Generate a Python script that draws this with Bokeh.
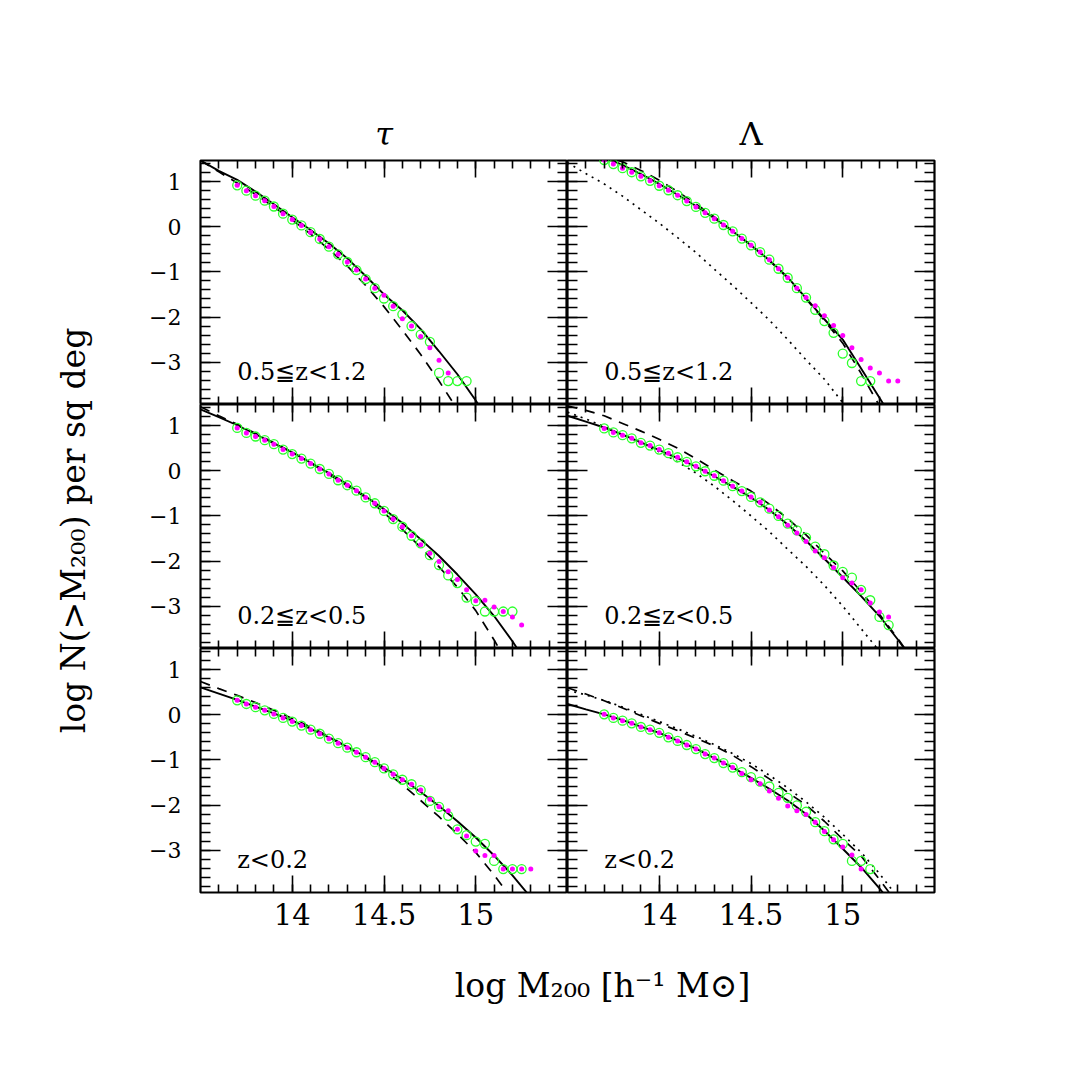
import numpy as np
from bokeh.plotting import figure
from bokeh.models import Range1d, LinearAxis, FixedTicker, Label
from bokeh.layouts import row, column
from bokeh.embed import file_html
from bokeh.resources import INLINE

# ---------------- data ----------------
# mass bins of the simulated cluster counts (log M200)
mass_bins = [13.70, 13.75, 13.80, 13.85, 13.90, 13.95, 14.00, 14.05, 14.10, 14.15,
             14.20, 14.25, 14.30, 14.35, 14.40, 14.45, 14.50, 14.55, 14.60, 14.65,
             14.70, 14.75, 14.80, 14.85, 14.90, 14.95, 15.00, 15.05, 15.10, 15.15,
             15.20, 15.25, 15.30]
# mass grid of the model curves
model_mass = [13.5, 13.6, 13.7, 13.8, 13.9, 14.0, 14.1, 14.2, 14.3, 14.4,
              14.5, 14.6, 14.7, 14.8, 14.9, 15.0, 15.1, 15.2, 15.3, 15.4]

# tau model, 0.5 <= z < 1.2
tau_hi_green = [0.92, 0.80, 0.69, 0.58, 0.45, 0.29, 0.16, 0.03, -0.12, -0.27, -0.44, -0.61, -0.78,
                -0.96, -1.16, -1.36, -1.59, -1.76, -1.94, -2.20, -2.39, -2.55, -3.24, -3.42, -3.42, -3.42]
tau_hi_magenta = [0.92, 0.80, 0.69, 0.58, 0.45, 0.29, 0.16, 0.03, -0.12, -0.27, -0.44, -0.61, -0.78,
                  -0.96, -1.16, -1.36, -1.52, -1.76, -2.04, -2.20, -2.43, -2.68, -2.96, -3.24]
tau_hi_solid = [1.47, 1.24, 1.04, 0.78, 0.50, 0.21, -0.07, -0.37, -0.70, -1.09, -1.50, -1.85,
                -2.27, -2.76, -3.27, -3.85, -4.50]
tau_hi_dashed = [1.47, 1.22, 0.97, 0.72, 0.44, 0.15, -0.16, -0.50, -0.87, -1.30, -1.77, -2.29,
                 -2.83, -3.42, -4.05]

# Lambda model, 0.5 <= z < 1.2
lam_hi_green = [1.48, 1.39, 1.30, 1.21, 1.12, 1.02, 0.91, 0.81, 0.70, 0.57, 0.44, 0.31, 0.18, 0.04,
                -0.10, -0.26, -0.41, -0.56, -0.73, -0.93, -1.13, -1.36, -1.57, -1.84, -2.09, -2.35,
                -2.81, -3.02, -3.42, -3.42]
lam_hi_magenta = [1.48, 1.39, 1.30, 1.21, 1.12, 1.02, 0.91, 0.81, 0.70, 0.57, 0.44, 0.31, 0.18, 0.04,
                  -0.10, -0.26, -0.41, -0.56, -0.73, -0.93, -1.13, -1.36, -1.57, -1.75, -1.97, -2.19,
                  -2.41, -2.68, -2.94, -3.13, -3.24, -3.42, -3.42]
lam_hi_solid = [1.88, 1.73, 1.55, 1.37, 1.17, 0.95, 0.71, 0.46, 0.19, -0.10, -0.41, -0.74, -1.12,
                -1.58, -2.05, -2.50, -3.14, -3.79, -4.45]
lam_hi_dashed = [1.90, 1.75, 1.60, 1.44, 1.25, 1.03, 0.78, 0.51, 0.22, -0.09, -0.41, -0.75, -1.14,
                 -1.60, -2.08, -2.58, -3.25, -3.97]
lam_hi_dotted = [1.42, 1.18, 0.95, 0.68, 0.38, 0.08, -0.24, -0.57, -0.94, -1.30, -1.68, -2.07,
                 -2.50, -2.95, -3.38, -3.90, -4.45]

# tau model, 0.2 <= z < 0.5
tau_mid_green = [0.95, 0.84, 0.76, 0.68, 0.59, 0.47, 0.37, 0.27, 0.16, 0.04, -0.07, -0.21, -0.32,
                 -0.44, -0.59, -0.72, -0.89, -1.07, -1.24, -1.44, -1.61, -1.87, -2.09, -2.32, -2.49,
                 -2.81, -2.89, -3.12, -3.12, -3.12, -3.12]
tau_mid_magenta = [0.95, 0.84, 0.76, 0.68, 0.59, 0.47, 0.37, 0.27, 0.16, 0.04, -0.07, -0.21, -0.32,
                   -0.44, -0.59, -0.72, -0.89, -1.07, -1.24, -1.44, -1.64, -1.83, -2.01, -2.24, -2.41,
                   -2.64, -2.88, -2.87, -3.02, -3.12, -3.24, -3.42]
tau_mid_solid = [1.36, 1.19, 1.01, 0.81, 0.61, 0.41, 0.18, -0.05, -0.30, -0.57, -0.85, -1.16, -1.52,
                 -1.89, -2.30, -2.74, -3.22, -3.78, -4.40]
tau_mid_dashed = [1.42, 1.22, 1.03, 0.83, 0.62, 0.41, 0.17, -0.08, -0.33, -0.59, -0.93, -1.30, -1.70,
                  -2.13, -2.58, -3.10, -3.75, -4.45]

# Lambda model, 0.2 <= z < 0.5
lam_mid_green = [0.94, 0.85, 0.79, 0.72, 0.62, 0.56, 0.47, 0.39, 0.30, 0.20, 0.10, -0.01, -0.11,
                 -0.22, -0.34, -0.45, -0.58, -0.70, -0.84, -1.00, -1.17, -1.32, -1.48, -1.68, -1.85,
                 -2.10, -2.24, -2.37, -2.64, -2.87, -3.24, -3.42]
lam_mid_magenta = [0.94, 0.85, 0.79, 0.72, 0.62, 0.56, 0.47, 0.39, 0.30, 0.20, 0.10, -0.01, -0.11,
                   -0.22, -0.34, -0.45, -0.58, -0.70, -0.87, -1.02, -1.21, -1.38, -1.57, -1.78, -1.93,
                   -2.15, -2.37, -2.49, -2.64, -2.93, -3.13, -3.24]
lam_mid_solid = [1.22, 1.09, 0.96, 0.80, 0.63, 0.46, 0.28, 0.09, -0.12, -0.35, -0.59, -0.87, -1.19,
                 -1.55, -1.95, -2.36, -2.78, -3.22, -3.74, -4.30]
lam_mid_dashed = [1.44, 1.34, 1.22, 1.05, 0.88, 0.70, 0.50, 0.27, 0.02, -0.22, -0.45, -0.74, -1.06,
                  -1.42, -1.83, -2.22, -2.68, -3.18, -3.72, -4.30]
lam_mid_dotted = [1.30, 1.15, 0.98, 0.80, 0.62, 0.42, 0.20, -0.05, -0.34, -0.66, -1.00, -1.35, -1.74,
                  -2.12, -2.54, -3.00, -3.50, -4.00]

# tau model, z < 0.2
tau_lo_green = [0.32, 0.24, 0.17, 0.10, 0.02, -0.07, -0.15, -0.24, -0.33, -0.42, -0.53, -0.63, -0.73,
                -0.83, -0.94, -1.05, -1.19, -1.32, -1.44, -1.54, -1.67, -1.91, -2.04, -2.24, -2.54,
                -2.67, -2.81, -2.86, -3.24, -3.42, -3.42, -3.42]
tau_lo_magenta = [0.32, 0.24, 0.17, 0.10, 0.02, -0.07, -0.15, -0.24, -0.33, -0.42, -0.53, -0.63, -0.73,
                  -0.83, -0.94, -1.05, -1.19, -1.32, -1.44, -1.54, -1.67, -1.87, -2.04, -2.13, -2.54,
                  -2.69, -3.02, -3.12, -3.12, -3.42, -3.42, -3.42, -3.42]
tau_lo_solid = [0.61, 0.47, 0.33, 0.18, 0.03, -0.13, -0.31, -0.50, -0.71, -0.93, -1.17, -1.43, -1.71,
                -2.02, -2.36, -2.72, -3.12, -3.56, -4.05]
tau_lo_dashed = [0.74, 0.58, 0.43, 0.27, 0.10, -0.08, -0.27, -0.48, -0.71, -0.95, -1.22, -1.55, -1.90,
                 -2.26, -2.64, -3.05, -3.55, -4.10]

# Lambda model, z < 0.2
lam_lo_green = [0.01, -0.07, -0.13, -0.19, -0.27, -0.33, -0.40, -0.50, -0.58, -0.67, -0.76, -0.87,
                -0.96, -1.07, -1.17, -1.27, -1.38, -1.48, -1.59, -1.73, -1.84, -2.01, -2.15, -2.38,
                -2.58, -2.76, -2.86, -3.24, -3.24, -3.42]
lam_lo_magenta = [0.01, -0.07, -0.13, -0.19, -0.27, -0.33, -0.40, -0.50, -0.58, -0.67, -0.76, -0.87,
                  -0.96, -1.07, -1.17, -1.30, -1.44, -1.53, -1.69, -1.85, -2.02, -2.13, -2.21, -2.38,
                  -2.59, -2.77, -2.93, -3.11, -3.42]
lam_lo_solid = [0.24, 0.12, 0.01, -0.12, -0.26, -0.40, -0.57, -0.75, -0.96, -1.17, -1.40, -1.64, -1.90,
                -2.20, -2.57, -2.97, -3.38, -3.85, -4.35]
lam_lo_dashed = [0.60, 0.46, 0.31, 0.15, -0.02, -0.19, -0.35, -0.52, -0.69, -0.90, -1.15, -1.42, -1.72,
                 -2.00, -2.36, -2.76, -3.13, -3.65, -4.20]
lam_lo_dotted = [0.55, 0.44, 0.32, 0.17, 0.01, -0.15, -0.31, -0.48, -0.66, -0.86, -1.08, -1.34, -1.62,
                 -1.93, -2.27, -2.65, -3.05, -3.52, -4.05]

column_titles = ["τ", "Λ"]
row_labels = ["0.5≦z<1.2", "0.2≦z<0.5", "z<0.2"]
x_major = [14.0, 14.5, 15.0]
x_major_labels = ["14", "14.5", "15"]
y_major = [-3, -2, -1, 0, 1]
y_major_labels = ["−3", "−2", "−1", "0", "1"]
x_label_text = "log M₂₀₀ [h⁻¹ M⊙]"
y_label_text = "log N(>M₂₀₀) per sq deg"

# ---------------- styling / layout ----------------
FONT = "DejaVu Serif"
FW, FH = 367, 244
LEFT_B, TOP_B, BOT_B = 92, 160, 50
YLAB_W, XLAB_H = 108, 70
X_RANGE = (13.5, 15.5)
Y_RANGE = (-3.94, 1.47)
GREEN = "#2cff2c"
MAGENTA = "#ff00ff"

x_minor = list(np.round(np.arange(13.6, 15.45, 0.1), 2))
y_minor = list(np.round(np.arange(-3.8, 1.45, 0.2), 2))

panels = [
    [(tau_hi_green, tau_hi_magenta, tau_hi_solid, tau_hi_dashed, None),
     (lam_hi_green, lam_hi_magenta, lam_hi_solid, lam_hi_dashed, lam_hi_dotted)],
    [(tau_mid_green, tau_mid_magenta, tau_mid_solid, tau_mid_dashed, None),
     (lam_mid_green, lam_mid_magenta, lam_mid_solid, lam_mid_dashed, lam_mid_dotted)],
    [(tau_lo_green, tau_lo_magenta, tau_lo_solid, tau_lo_dashed, None),
     (lam_lo_green, lam_lo_magenta, lam_lo_solid, lam_lo_dashed, lam_lo_dotted)],
]


def make_axis(kind, labelled):
    if kind == "x":
        ticker = FixedTicker(ticks=x_major, minor_ticks=x_minor)
        maj, mnr = 17, 8
        overrides = dict(zip(x_major, x_major_labels)) if labelled else {t: "" for t in x_major}
        fsize, standoff = "29px", 10
    else:
        ticker = FixedTicker(ticks=y_major, minor_ticks=y_minor)
        maj, mnr = 20, 10
        overrides = dict(zip(y_major, y_major_labels)) if labelled else {t: "" for t in y_major}
        fsize, standoff = "22px", 19
    ax = LinearAxis(ticker=ticker)
    ax.major_tick_in = maj
    ax.major_tick_out = 0
    ax.minor_tick_in = mnr
    ax.minor_tick_out = 0
    ax.major_tick_line_color = "black"
    ax.minor_tick_line_color = "black"
    ax.major_tick_line_width = 1.6
    ax.minor_tick_line_width = 1.6
    ax.axis_line_color = None
    ax.major_label_overrides = overrides
    if labelled:
        ax.major_label_text_font = FONT
        ax.major_label_text_font_size = fsize
        ax.major_label_text_color = "black"
        ax.major_label_standoff = standoff
    else:
        ax.major_label_text_font_size = "0px"
        ax.major_label_standoff = 0
    return ax


figs = []
for r in range(3):
    row_figs = []
    for c in range(2):
        green, magenta, solid, dashed, dotted = panels[r][c]
        p = figure(frame_width=FW, frame_height=FH,
                   x_range=Range1d(*X_RANGE), y_range=Range1d(*Y_RANGE),
                   x_axis_type=None, y_axis_type=None,
                   output_backend="svg", toolbar_location=None)
        p.min_border = 0
        p.min_border_left = LEFT_B if c == 0 else 0
        p.min_border_right = 0 if c == 0 else 2
        p.min_border_top = TOP_B if r == 0 else 0
        p.min_border_bottom = BOT_B if r == 2 else 0
        p.grid.visible = False
        p.outline_line_color = "black"
        p.outline_line_width = 2.2
        p.background_fill_color = "white"
        p.border_fill_color = "white"

        p.add_layout(make_axis("x", r == 2), "below")
        p.add_layout(make_axis("x", False), "above")
        p.add_layout(make_axis("y", c == 0), "left")
        p.add_layout(make_axis("y", False), "right")

        if r == 0:
            p.title.text = column_titles[c]
            p.title.align = "center"
            p.title.text_font = FONT
            p.title.text_font_size = "32px"
            p.title.text_font_style = "italic" if c == 0 else "normal"
            p.title.text_color = "black"
            p.title.standoff = 16

        p.line(model_mass[:len(solid)], solid, line_color="black", line_width=1.9)
        p.line(model_mass[:len(dashed)], dashed, line_color="black", line_width=1.7,
               line_dash="10 8")
        if dotted is not None:
            p.line(model_mass[:len(dotted)], dotted, line_color="black", line_width=1.7,
                   line_dash="2 5")
        p.scatter(mass_bins[:len(green)], green, marker="circle", size=9,
                  fill_color=None, line_color=GREEN, line_width=1.3)
        p.scatter(mass_bins[:len(magenta)], magenta, marker="circle", size=5,
                  fill_color=MAGENTA, line_color=None)

        p.add_layout(Label(x=13.7, y=-3.22, text=row_labels[r], text_font=FONT,
                           text_font_size="24px", text_color="black",
                           text_baseline="alphabetic", text_align="left"))
        row_figs.append(p)
    figs.append(row_figs)

# shared x-axis label
xw = LEFT_B + 2 * FW + 2
xlab = figure(width=xw, height=XLAB_H, x_range=Range1d(0, xw), y_range=Range1d(0, XLAB_H),
              x_axis_type=None, y_axis_type=None, output_backend="svg", toolbar_location=None)
xlab.min_border = 0
xlab.outline_line_color = None
xlab.grid.visible = False
xlab.add_layout(Label(x=494, y=27, text=x_label_text, text_font=FONT, text_font_size="33px",
                      text_color="black", text_align="center", text_baseline="alphabetic"))

# shared y-axis label
yh = TOP_B + 3 * FH + BOT_B + XLAB_H
ylab = figure(width=YLAB_W, height=yh, x_range=Range1d(0, YLAB_W), y_range=Range1d(0, yh),
              x_axis_type=None, y_axis_type=None, output_backend="svg", toolbar_location=None)
ylab.min_border = 0
ylab.outline_line_color = None
ylab.grid.visible = False
ylab.add_layout(Label(x=73, y=yh - 530, text=y_label_text, text_font=FONT, text_font_size="33px",
                      text_color="black", text_align="center", text_baseline="alphabetic",
                      angle=np.pi / 2))

grid = column(row(figs[0][0], figs[0][1]), row(figs[1][0], figs[1][1]),
              row(figs[2][0], figs[2][1]), xlab)
layout = row(ylab, grid)

open("out.html", "w").write(file_html(layout, INLINE))
